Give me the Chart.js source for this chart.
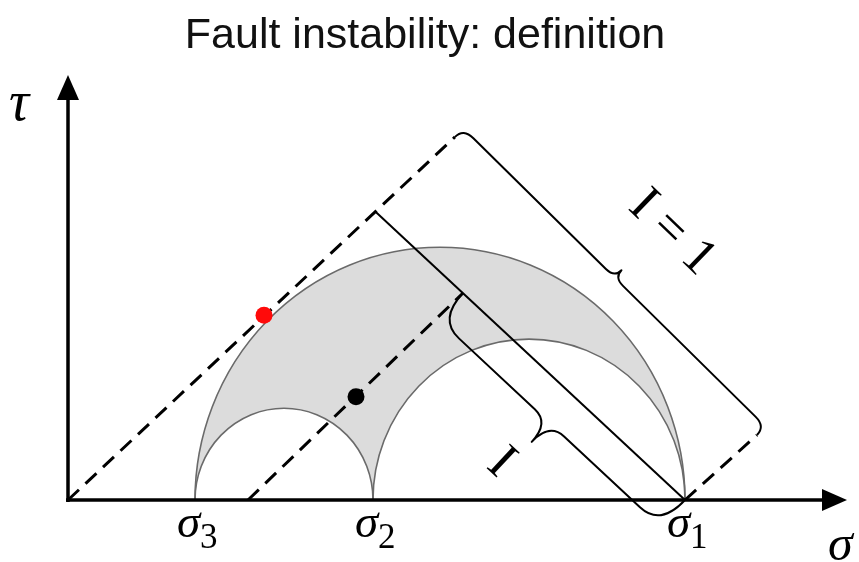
<!DOCTYPE html>
<html><head><meta charset="utf-8">
<script src="https://cdn.jsdelivr.net/npm/chart.js@4"></script>
<style>html,body{margin:0;padding:0;background:#fff}#wrap{width:859px;height:562px}</style>
</head><body><div id="wrap"><canvas id="c" width="859" height="562"></canvas></div>
<script>
// ---- data ----
const chartTitle = 'Fault instability: definition';
const sigmaValues = [127, 305, 617];          // sigma3, sigma2, sigma1
const sigmaSubscripts = ['3', '2', '1'];
const xRange = [0, 779];
const yRange = [0, 412];
const originLine = [{x: 0, y: 0}, {x: 387, y: 352}];
const parallelLine = [{x: 180, y: 0}, {x: 395, y: 200.7}];
const sigma1Line = [{x: 617, y: 0}, {x: 689, y: 63}];
const normalLine = [{x: 307, y: 280}, {x: 617, y: 0}];
const criticalPoint = [{x: 196, y: 179}];
const faultPoint = [{x: 288, y: 100}];
const braceLabelFull = 'I = 1';
const braceLabel = 'I';
const axisLabelX = 'σ';
const axisLabelY = 'τ';

function brace(ctx, A, B, side, s, c, r, w) {
  const dx = B.x - A.x, dy = B.y - A.y, L = Math.hypot(dx, dy);
  const u = {x: dx / L, y: dy / L};
  let n = {x: -u.y * side, y: u.x * side};
  const P = (t, o) => ({x: A.x + u.x * t + n.x * o, y: A.y + u.y * t + n.y * o});
  const M = L / 2;
  ctx.beginPath();
  let p = P(0, 0); ctx.moveTo(p.x, p.y);
  let q = P(0, s), e = P(r, s); ctx.quadraticCurveTo(q.x, q.y, e.x, e.y);
  e = P(M - w, s); ctx.lineTo(e.x, e.y);
  q = P(M, s); e = P(M, c); ctx.quadraticCurveTo(q.x, q.y, e.x, e.y);
  q = P(M, s); e = P(M + w, s); ctx.quadraticCurveTo(q.x, q.y, e.x, e.y);
  e = P(L - r, s); ctx.lineTo(e.x, e.y);
  q = P(L, s); e = P(L, 0); ctx.quadraticCurveTo(q.x, q.y, e.x, e.y);
  ctx.stroke();
}

const diagram = {
  id: 'diagram',
  beforeDatasetsDraw(chart) {
    const {ctx, scales: {x, y}} = chart;
    const [s3, s2, s1] = sigmaValues;
    const ell = (a, b) => {
      const cx = x.getPixelForValue((a + b) / 2);
      const rx = Math.abs(x.getPixelForValue(b) - cx);
      const ry = Math.abs(y.getPixelForValue(0) - y.getPixelForValue((b - a) / 2));
      return [cx, y.getPixelForValue(0), rx, ry];
    };
    const big = ell(s3, s1), c1 = ell(s3, s2), c2 = ell(s2, s1);
    ctx.save();
    const path = (e) => { ctx.beginPath(); ctx.ellipse(e[0], e[1], e[2], e[3], 0, Math.PI, 2 * Math.PI); };
    path(big); ctx.closePath(); ctx.fillStyle = '#dcdcdc'; ctx.fill();
    for (const e of [c1, c2]) { path(e); ctx.closePath(); ctx.fillStyle = '#ffffff'; ctx.fill(); }
    ctx.strokeStyle = '#6a6a6a'; ctx.lineWidth = 1.6;
    for (const e of [big, c1, c2]) { path(e); ctx.stroke(); }
    ctx.restore();
  },
  afterDatasetsDraw(chart) {
    const {ctx, scales: {x, y}} = chart;
    const px = (pt) => ({x: x.getPixelForValue(pt.x), y: y.getPixelForValue(pt.y)});
    ctx.save();
    const x0 = x.getPixelForValue(0), y0 = y.getPixelForValue(0);
    const xr = x.getPixelForValue(xRange[1]), yt = y.getPixelForValue(yRange[1]);
    ctx.strokeStyle = '#000'; ctx.fillStyle = '#000'; ctx.lineWidth = 3.5; ctx.lineCap = 'butt';
    ctx.beginPath(); ctx.moveTo(x0 - 2, y0); ctx.lineTo(xr - 20, y0); ctx.stroke();
    ctx.beginPath(); ctx.moveTo(xr, y0); ctx.lineTo(xr - 25, y0 - 11); ctx.lineTo(xr - 25, y0 + 11); ctx.closePath(); ctx.fill();
    ctx.beginPath(); ctx.moveTo(x0, y0 + 2); ctx.lineTo(x0, yt + 20); ctx.stroke();
    ctx.beginPath(); ctx.moveTo(x0, yt); ctx.lineTo(x0 - 11, yt + 25); ctx.lineTo(x0 + 11, yt + 25); ctx.closePath(); ctx.fill();
    ctx.lineWidth = 2; ctx.lineJoin = 'round';
    brace(ctx, px(originLine[1]), px(sigma1Line[1]), -1, 12, 22, 14, 12);
    brace(ctx, px(parallelLine[1]), px(sigma1Line[0]), 1, 36, 62, 28, 20);
    ctx.restore();
  },
  afterDraw(chart) {
    const {ctx, scales: {x, y}} = chart;
    ctx.save();
    ctx.fillStyle = '#111';
    ctx.textAlign = 'center'; ctx.textBaseline = 'alphabetic';
    ctx.font = '43px "Liberation Sans", Arial, sans-serif';
    ctx.fillText(chartTitle, 425, 48);
    ctx.fillStyle = '#000';
    const y0 = y.getPixelForValue(0);
    sigmaValues.forEach((v, i) => {
      const xp = x.getPixelForValue(v);
      ctx.textAlign = 'left';
      ctx.font = 'italic 47px "Liberation Serif", "Times New Roman", serif';
      ctx.fillText('σ', xp - 18, y0 + 37);
      ctx.font = '35px "Liberation Serif", "Times New Roman", serif';
      ctx.fillText(sigmaSubscripts[i], xp + 5, y0 + 48);
    });
    ctx.font = 'italic 50px "Liberation Serif", "Times New Roman", serif';
    ctx.textAlign = 'left';
    ctx.fillText(axisLabelX, 828, 560);
    ctx.font = 'italic 56px "Liberation Serif", "Times New Roman", serif';
    ctx.fillText(axisLabelY, 9, 120);
    ctx.font = '52px "Liberation Serif", "Times New Roman", serif';
    ctx.textAlign = 'center'; ctx.textBaseline = 'middle';
    ctx.save(); ctx.translate(672, 233); ctx.rotate(44 * Math.PI / 180); ctx.fillText(braceLabelFull, 0, 0); ctx.restore();
    ctx.save(); ctx.translate(501, 463); ctx.rotate(43 * Math.PI / 180); ctx.fillText(braceLabel, 0, 0); ctx.restore();
    ctx.restore();
  }
};

const dashed = {showLine: true, borderColor: '#000', borderWidth: 3, borderDash: [15, 9], pointRadius: 0, fill: false, clip: false};
new Chart(document.getElementById('c'), {
  type: 'scatter',
  data: {
    datasets: [
      {label: 'critical', data: criticalPoint, pointRadius: 8.5, pointBackgroundColor: '#ff0a0a', pointBorderWidth: 0, order: 0, clip: false},
      {label: 'fault', data: faultPoint, pointRadius: 8.5, pointBackgroundColor: '#000', pointBorderWidth: 0, order: 0, clip: false},
      Object.assign({label: 'origin', data: originLine, order: 1}, dashed),
      Object.assign({label: 'parallel', data: parallelLine, order: 1}, dashed),
      Object.assign({label: 's1', data: sigma1Line, order: 1}, dashed),
      {label: 'normal', data: normalLine, showLine: true, borderColor: '#000', borderWidth: 2, pointRadius: 0, order: 1, clip: false}
    ]
  },
  options: {
    responsive: false, animation: false, devicePixelRatio: 1,
    layout: {padding: {left: 68, right: 12, top: 75, bottom: 62}},
    plugins: {legend: {display: false}, tooltip: {enabled: false}, title: {display: false}},
    scales: {
      x: {type: 'linear', min: xRange[0], max: xRange[1], display: false},
      y: {type: 'linear', min: yRange[0], max: yRange[1], display: false}
    }
  },
  plugins: [diagram]
});
</script>
</body></html>
